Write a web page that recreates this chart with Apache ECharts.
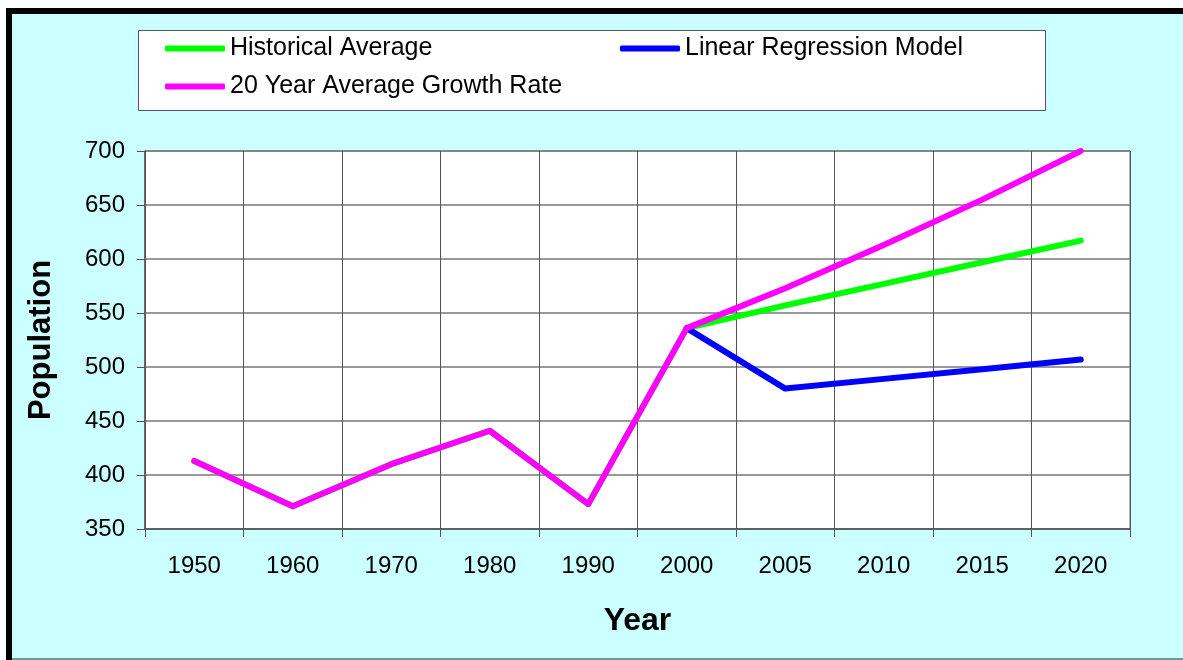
<!DOCTYPE html>
<html>
<head>
<meta charset="utf-8">
<script src="https://cdn.jsdelivr.net/npm/echarts@6/dist/echarts.min.js"></script>
<style>
  html, body { margin: 0; padding: 0; background: #fff; }
  #chart { width: 1183px; height: 660px; }
</style>
</head>
<body>
<div id="chart"></div>
<script>
// 数据
var years = ['1950', '1960', '1970', '1980', '1990', '2000', '2005', '2010', '2015', '2020'];
var historicalAvg = [413, 371, 410, 441, 373, 536, 557, 577, 597, 617];
var linearModel = [null, null, null, null, null, 536, 480, 489, 498, 507];
var growthRate = [413, 371, 410, 441, 373, 536, 573, 613, 655, 700];
var yTicks = [350, 400, 450, 500, 550, 600, 650, 700];

var font = 'Liberation Sans, Arial, sans-serif';

function legendItem(name, left, top) {
    return {
        data: [name],
        left: left,
        top: top,
        orient: 'horizontal',
        icon: 'roundRect',
        itemWidth: 60,
        itemHeight: 6,
        itemGap: 0,
        padding: 0,
        selectedMode: false,
        textStyle: { fontFamily: font, fontSize: 25, color: '#000', padding: [0, 0, 0, 0] }
    };
}

var chart = echarts.init(document.getElementById('chart'));
var option = {
    backgroundColor: '#fff',
    animation: false,
    graphic: [
        { type: 'rect', z: -10, shape: { x: 6, y: 8, width: 1190, height: 660 }, style: { fill: '#000' } },
        { type: 'rect', z: -9, shape: { x: 12, y: 14, width: 1190, height: 645 }, style: { fill: '#CCFFFF' } },
        { type: 'rect', z: -9, shape: { x: 12, y: 658, width: 1190, height: 2 }, style: { fill: '#6E9A9A' } },
        { type: 'rect', z: -8, shape: { x: 138.5, y: 30.5, width: 907, height: 80 },
          style: { fill: '#fff', stroke: '#555', lineWidth: 1 } }
    ],
    legend: [
        legendItem('Historical Average', 165, 36),
        legendItem('Linear Regression Model', 620, 36),
        legendItem('20 Year Average Growth Rate', 165, 74)
    ],
    grid: {
        left: 145, right: 53, top: 151, bottom: 131,
        show: true, backgroundColor: '#fff', borderColor: '#666', borderWidth: 1
    },
    xAxis: {
        type: 'category',
        data: years,
        boundaryGap: true,
        name: 'Year',
        nameLocation: 'middle',
        nameGap: 76,
        nameTextStyle: { fontFamily: font, fontSize: 32, fontWeight: 'bold', color: '#000' },
        axisLine: { lineStyle: { color: '#555', width: 1.5 } },
        axisTick: { show: true, length: 8, lineStyle: { color: '#555' } },
        axisLabel: { fontFamily: font, fontSize: 24, color: '#000', margin: 25 },
        splitLine: { show: true, lineStyle: { color: '#555', width: 1 } }
    },
    yAxis: {
        type: 'value',
        min: yTicks[0],
        max: yTicks[yTicks.length - 1],
        interval: 50,
        name: 'Population',
        nameLocation: 'middle',
        nameGap: 88,
        nameTextStyle: { fontFamily: font, fontSize: 31, fontWeight: 'bold', color: '#000' },
        axisLine: { show: true, lineStyle: { color: '#555', width: 1.5 } },
        axisTick: { show: true, length: 8, lineStyle: { color: '#555' } },
        axisLabel: { fontFamily: font, fontSize: 24, color: '#000', margin: 20 },
        splitLine: { show: true, lineStyle: { color: '#777', width: 1.5 } }
    },
    series: [
        {
            name: 'Historical Average', type: 'line', data: historicalAvg,
            symbol: 'none', z: 2,
            itemStyle: { color: '#00FF00' },
            lineStyle: { color: '#00FF00', width: 6, cap: 'round', join: 'round' }
        },
        {
            name: 'Linear Regression Model', type: 'line', data: linearModel,
            symbol: 'none', z: 3,
            itemStyle: { color: '#0000FF' },
            lineStyle: { color: '#0000FF', width: 6, cap: 'round', join: 'round' }
        },
        {
            name: '20 Year Average Growth Rate', type: 'line', data: growthRate,
            symbol: 'none', z: 4,
            itemStyle: { color: '#FF00FF' },
            lineStyle: { color: '#FF00FF', width: 6, cap: 'round', join: 'round' }
        }
    ]
};
chart.setOption(option);
</script>
</body>
</html>
